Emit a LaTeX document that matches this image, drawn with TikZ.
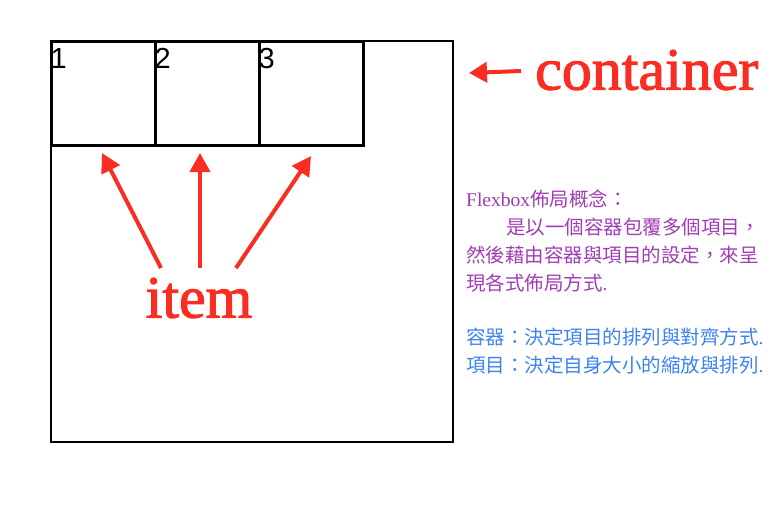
\documentclass[tikz,border=0pt]{standalone}
\usepackage{fontspec}
\setmainfont{Liberation Serif}
\newfontfamily\boxfont{Liberation Sans}
\newfontfamily\labelfont[FakeBold=1.8]{Liberation Serif}
\newfontfamily\cjkfont{Noto Sans CJK TC}
\usepackage{tikz}
\usetikzlibrary{positioning}
\usetikzlibrary{arrows.meta}
\definecolor[named]{labelred}{RGB}{250,45,35}
\definecolor[named]{notepurple}{RGB}{160,60,180}
\definecolor[named]{noteblue}{RGB}{60,130,240}

\begin{document}
\begin{tikzpicture}[x=1pt,y=-1pt]
   \tikzset{itembox/.style={draw,line width=3pt,minimum width=104pt,minimum height=104pt,inner sep=0pt},
            redarrow/.style={draw=labelred,line width=4pt,-{Triangle[width=20pt,length=19pt]}},
            notetext/.style={anchor=west,inner sep=0pt,font=\cjkfont\fontsize{19.5}{28}\selectfont}}
   \useasboundingbox (0,0) rectangle (782,504);
   % container
   \draw[line width=2pt] (51,41) rectangle (453,442);
   \foreach \n in {1,2,3} {
      \node[itembox] (b\n) at (103+104*\n-104,93) {};
      \node[anchor=north west,inner sep=1pt,font=\boxfont\fontsize{29}{29}\selectfont] (n\n) at ([yshift=-8pt]b\n.north west) {\n};
   }
   % labels
   \node[anchor=west,inner sep=0pt,text=labelred,font=\labelfont\fontsize{60}{60}\selectfont] (containerlbl) at (535,70) {container};
   \coordinate (ctip) at (469,73);
   \draw[redarrow,-{Triangle[width=20pt,length=18pt]}] ([xshift=-14pt,yshift=-1pt]containerlbl.west) -- (ctip);
   \node[text=labelred,inner sep=0pt,font=\labelfont\fontsize{60}{60}\selectfont] (itemlbl) at (199,298) {item};
   \coordinate (tip1) at (102,153);
   \coordinate (tip2) at (200,153);
   \coordinate (tip3) at (311,156);
   \draw[redarrow] (161,268) -- (tip1);
   \draw[redarrow] (200,268) -- (tip2);
   \draw[redarrow] (236,268) -- (tip3);
   % notes
   \node[notetext,text=notepurple] (note1) at (466,199) {{\rmfamily Flexbox}佈局概念：};
   \node[notetext,text=notepurple] (note2) at (506,227) {是以一個容器包覆多個項目，};
   \node[notetext,text=notepurple] (note3) at (466,255) {然後藉由容器與項目的設定，來呈};
   \node[notetext,text=notepurple] (note4) at (466,283) {現各式佈局方式{\rmfamily .}};
   \node[notetext,text=noteblue] (note5) at (466,337) {容器：決定項目的排列與對齊方式{\rmfamily .}};
   \node[notetext,text=noteblue] (note6) at (466,365) {項目：決定自身大小的縮放與排列{\rmfamily .}};
\end{tikzpicture}
\end{document}
